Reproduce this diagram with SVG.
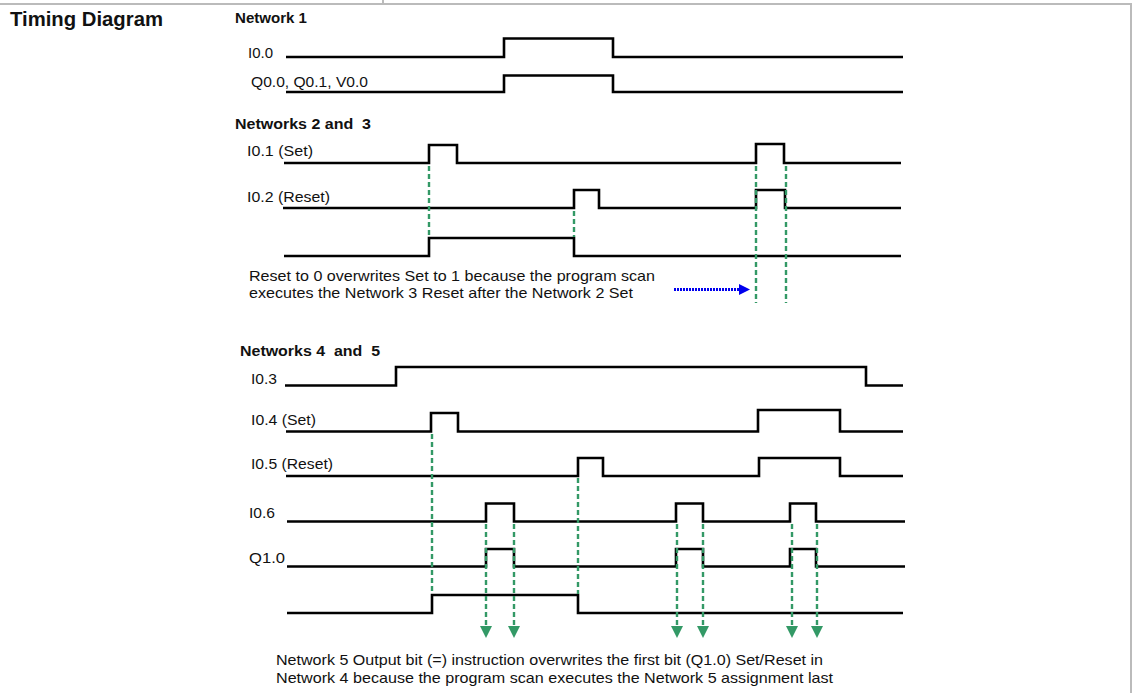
<svg xmlns="http://www.w3.org/2000/svg" width="1133" height="693" viewBox="0 0 1133 693">
<style>
text{font-family:"Liberation Sans",Arial,Helvetica,sans-serif;fill:#111}
.t{font-size:19.5px;font-weight:bold}
.h{font-size:14px;font-weight:bold}
.l{font-size:15px}
.w{fill:none;stroke:#000;stroke-width:2.6;stroke-linejoin:miter;stroke-linecap:butt}
.g{fill:none;stroke:#339966;stroke-width:2.4;stroke-dasharray:5,3}
.ga{fill:none;stroke:#339966;stroke-width:2.4;stroke-dasharray:5,3;marker-end:url(#ga)}
.b{fill:none;stroke:#0000ee;stroke-width:3;stroke-dasharray:2,1;marker-end:url(#ba)}
.br{fill:none;stroke:#bbbbbb;stroke-width:2}
</style>
<defs>
<marker id="ga" viewBox="0 0 12 12" refX="0" refY="6" markerWidth="12" markerHeight="12" markerUnits="userSpaceOnUse" orient="auto">
<path d="M0,0 L12,6 L0,12 Z" fill="#339966"/>
</marker>
<marker id="ba" viewBox="0 0 12 12" refX="0" refY="6" markerWidth="12" markerHeight="11" markerUnits="userSpaceOnUse" orient="auto">
<path d="M0,0 L12,6 L0,12 Z" fill="#0000ee"/>
</marker>
</defs>
<rect width="1133" height="693" fill="#fff"/>
<g id="frame">
<line class="br" x1="0" y1="4" x2="1132" y2="4"/>
<line class="br" x1="383" y1="0" x2="383" y2="4"/>
<line class="br" x1="1131" y1="4" x2="1131" y2="693"/>
</g>
<g id="titles">
<text class="t" x="10" y="26" textLength="153" lengthAdjust="spacingAndGlyphs">Timing Diagram</text>
<text class="h" x="235" y="23" textLength="72" lengthAdjust="spacingAndGlyphs">Network 1</text>
<text class="h" x="235" y="129" xml:space="preserve" textLength="136" lengthAdjust="spacingAndGlyphs">Networks 2 and  3</text>
<text class="h" x="240" y="356" xml:space="preserve" textLength="140" lengthAdjust="spacingAndGlyphs">Networks 4  and  5</text>
</g>
<g id="net1">
<text class="l" x="248" y="58" textLength="25" lengthAdjust="spacingAndGlyphs">I0.0</text>
<polyline class="w" points="286,57 504,57 504,38.5 613,38.5 613,57 903,57"/>
<text class="l" x="251" y="87" textLength="117" lengthAdjust="spacingAndGlyphs">Q0.0, Q0.1, V0.0</text>
<polyline class="w" points="286,92 504,92 504,75.5 613,75.5 613,92 903,92"/>
</g>
<g id="net23">
<text class="l" x="247" y="156" textLength="66" lengthAdjust="spacingAndGlyphs">I0.1 (Set)</text>
<polyline class="w" points="284,163 429,163 429,145 457,145 457,163 756,163 756,144 784,144 784,163 901,163"/>
<text class="l" x="247" y="202" textLength="83" lengthAdjust="spacingAndGlyphs">I0.2 (Reset)</text>
<polyline class="w" points="283,208 574,208 574,190 599,190 599,208 756,208 756,190 785,190 785,208 901,208"/>
<polyline class="w" points="284,256 429,256 429,238 574,238 574,256 901,256"/>
<text class="l" x="249" y="281" textLength="406" lengthAdjust="spacingAndGlyphs">Reset to 0 overwrites Set to 1 because the program scan</text>
<text class="l" x="249" y="298" textLength="384" lengthAdjust="spacingAndGlyphs">executes the Network 3 Reset after the Network 2 Set</text>
</g>
<g id="net45">
<text class="l" x="251" y="384" textLength="26" lengthAdjust="spacingAndGlyphs">I0.3</text>
<polyline class="w" points="285,385.5 396,385.5 396,367 866,367 866,385.5 903,385.5"/>
<text class="l" x="251" y="425" textLength="65" lengthAdjust="spacingAndGlyphs">I0.4 (Set)</text>
<polyline class="w" points="286,431.5 431,431.5 431,413 458,413 458,431.5 758,431.5 758,410 840,410 840,431.5 903,431.5"/>
<text class="l" x="251" y="469" textLength="82" lengthAdjust="spacingAndGlyphs">I0.5 (Reset)</text>
<polyline class="w" points="286,476 578,476 578,458 603,458 603,476 759,476 759,458 840,458 840,476 903,476"/>
<text class="l" x="249" y="518" textLength="26" lengthAdjust="spacingAndGlyphs">I0.6</text>
<polyline class="w" points="287,521.5 486,521.5 486,503.5 514,503.5 514,521.5 676,521.5 676,503.5 703,503.5 703,521.5 790,521.5 790,503.5 816,503.5 816,521.5 905,521.5"/>
<text class="l" x="249" y="563" textLength="36" lengthAdjust="spacingAndGlyphs">Q1.0</text>
<polyline class="w" points="287,566.5 486,566.5 486,549 514,549 514,566.5 676,566.5 676,549 703,549 703,566.5 790,566.5 790,549 816,549 816,566.5 905,566.5"/>
<polyline class="w" points="287,613 432,613 432,595 578,595 578,613 903,613"/>
<text class="l" x="276" y="665" textLength="547" lengthAdjust="spacingAndGlyphs">Network 5 Output bit (=) instruction overwrites the first bit (Q1.0) Set/Reset in</text>
<text class="l" x="276" y="683" textLength="557" lengthAdjust="spacingAndGlyphs">Network 4 because the program scan executes the Network 5 assignment last</text>
</g>
<g id="connectors">
<line class="g" x1="429" y1="166" x2="429" y2="237"/>
<line class="g" x1="574" y1="211" x2="574" y2="237"/>
<line class="g" x1="756" y1="166" x2="756" y2="303"/>
<line class="g" x1="786" y1="166" x2="786" y2="303"/>
<line class="b" x1="674" y1="289.5" x2="739" y2="289.5"/>
<line class="g" x1="432" y1="434" x2="432" y2="594"/>
<line class="g" x1="578" y1="478" x2="578" y2="594"/>
<line class="ga" x1="486" y1="524" x2="486" y2="626"/>
<line class="ga" x1="514" y1="524" x2="514" y2="626"/>
<line class="ga" x1="677" y1="524" x2="677" y2="626"/>
<line class="ga" x1="703" y1="524" x2="703" y2="626"/>
<line class="ga" x1="792" y1="524" x2="792" y2="626"/>
<line class="ga" x1="817" y1="524" x2="817" y2="626"/>
</g>
</svg>
